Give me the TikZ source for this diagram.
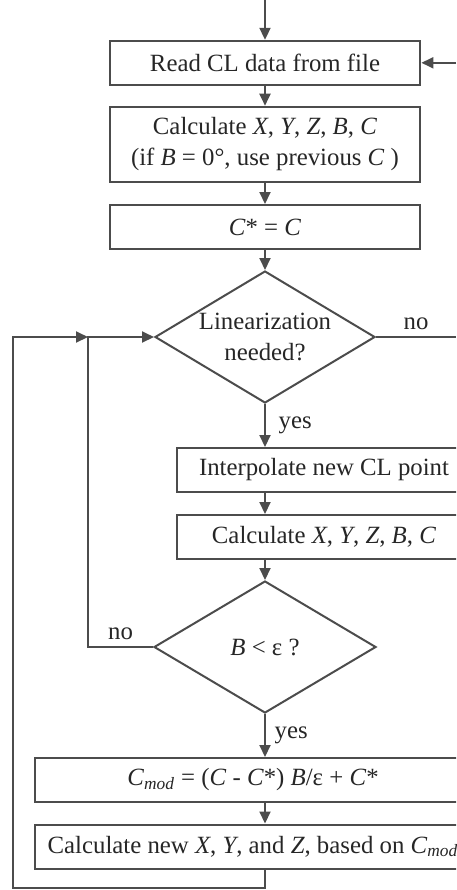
\documentclass[tikz,border=0pt]{standalone}
\usepackage{fontspec}
\setmainfont{Liberation Serif}
\usetikzlibrary{arrows.meta}
\usetikzlibrary{shapes.geometric}
\newcommand{\vi}[1]{\textit{#1}}
\newcommand{\cmod}{\textit{C}\textsubscript{\textit{mod}}}

\begin{document}
\begin{tikzpicture}[x=0.5pt,y=-0.5pt,line width=1pt,color=black!70,
    every node/.style={font=\fontsize{12.4}{15.5}\selectfont,text=black!85},
    box/.style={draw,rectangle,inner sep=0pt,minimum height=22pt,align=center},
    decide/.style={draw,diamond,aspect=1.65,inner sep=0pt,minimum width=110pt,minimum height=66pt,align=center},
    flow/.style={-{Triangle[length=6pt,width=5.5pt]}}]
      \useasboundingbox (0,0) rectangle (456,890);
      \clip (0,0) rectangle (456,890);
      \coordinate (start) at (265,0);
      \coordinate (back) at (456,62.8);
      \coordinate (noend) at (456,337);
      \coordinate (inner) at (88,647);
      \coordinate (join) at (88,337);
      \coordinate (corner) at (13,888);
      \node[box,minimum width=155.4pt] (read) at (265,62.8) {Read CL data from file};
      \node[box,minimum width=155.4pt,minimum height=37.8pt] (calc1) at (265,144.5)
        {Calculate \vi{X}, \vi{Y}, \vi{Z}, \vi{B}, \vi{C}\\(if \vi{B} = 0°, use previous \vi{C} )};
      \node[box,minimum width=155.4pt] (cstar) at (265,227) {\vi{C}* = \vi{C}};
      \node[decide] (lin) at (265,337) {Linearization\\needed?};
      \node[box,minimum width=147pt] (interp) at (324,470) {Interpolate new CL point};
      \node[box,minimum width=147pt] (calc2) at (324,537) {Calculate \vi{X}, \vi{Y}, \vi{Z}, \vi{B}, \vi{C}};
      \node[decide,minimum width=111pt] (beps) at (265,647) {\vi{B} < ε ?};
      \node[box,minimum width=218pt] (cmodbox) at (253,780) {\cmod{} = (\vi{C} - \vi{C}*) \vi{B}/ε + \vi{C}*};
      \node[box,minimum width=218pt] (calcnew) at (253,846.5) {Calculate new \vi{X}, \vi{Y}, and \vi{Z}, based on \cmod};
      % main line
      \draw[flow] (start) -- (read);
      \draw[flow] (back) -- (read);
      \draw[flow] (read) -- (calc1);
      \draw[flow] (calc1) -- (cstar);
      \draw[flow] (cstar) -- (lin);
      \draw (lin.east) -- node[above]{no} (noend);
      \draw[flow] (lin.south) -- node[right,xshift=3pt]{yes} (lin.south |- interp.north);
      \draw[flow] (lin.south |- interp.south) -- (lin.south |- calc2.north);
      \draw[flow] (lin.south |- calc2.south) -- (beps.north);
      \draw[flow] (beps.south) -- node[right,xshift=1pt]{yes} (beps.south |- cmodbox.north);
      \draw[flow] (beps.south |- cmodbox.south) -- (beps.south |- calcnew.north);
      % loops back
      \draw[flow] (beps.west) -- node[above]{no} (inner) |- (lin.west);
      \draw[flow] (beps.south |- calcnew.south) |- (corner) |- (join);
    \end{tikzpicture}
\end{document}
